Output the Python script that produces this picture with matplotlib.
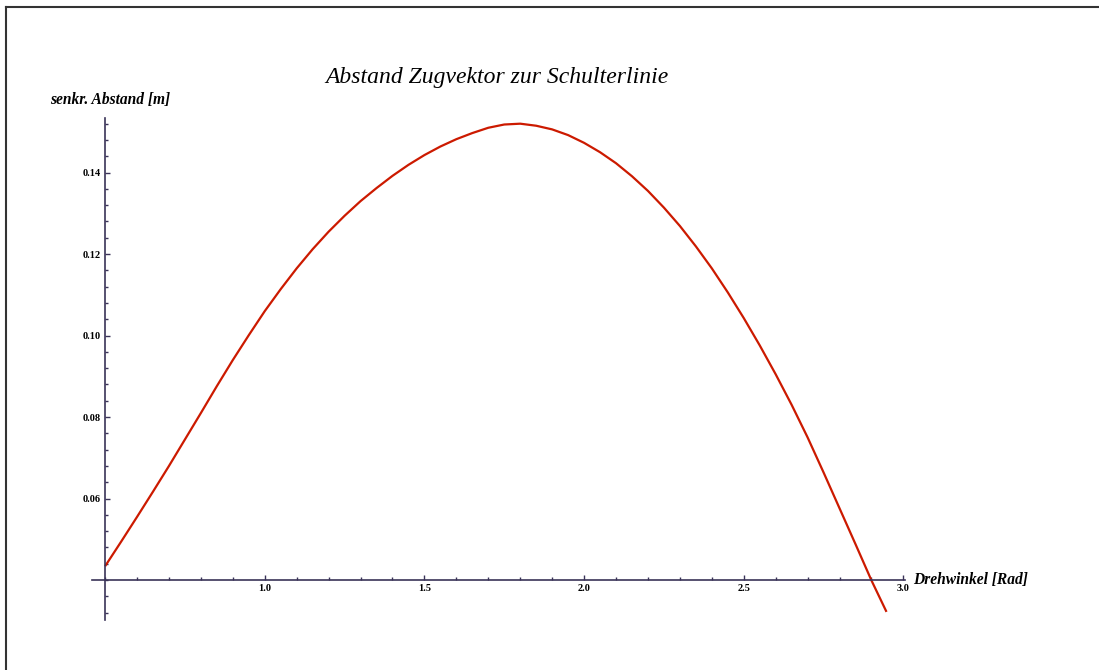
import matplotlib
matplotlib.use("Agg")
import matplotlib.pyplot as plt
from matplotlib.lines import Line2D
from matplotlib.ticker import MultipleLocator, FixedLocator

# Data
angle = [0.50, 0.55, 0.60, 0.65, 0.70, 0.75, 0.80, 0.85, 0.90, 0.95,
         1.00, 1.05, 1.10, 1.15, 1.20, 1.25, 1.30, 1.35, 1.40, 1.45,
         1.50, 1.55, 1.60, 1.65, 1.70, 1.75, 1.80, 1.85, 1.90, 1.95,
         2.00, 2.05, 2.10, 2.15, 2.20, 2.25, 2.30, 2.35, 2.40, 2.45,
         2.50, 2.55, 2.60, 2.65, 2.70, 2.75, 2.80, 2.85, 2.90, 2.947]
distance = [0.0434, 0.0494, 0.0555, 0.0617, 0.0680, 0.0745, 0.0810, 0.0876, 0.0940, 0.1001,
            0.1060, 0.1114, 0.1165, 0.1212, 0.1255, 0.1294, 0.1330, 0.1362, 0.1392, 0.1419,
            0.1443, 0.1464, 0.1482, 0.1497, 0.1510, 0.1518, 0.1520, 0.1515, 0.1506, 0.1492,
            0.1473, 0.1450, 0.1423, 0.1391, 0.1355, 0.1314, 0.1269, 0.1219, 0.1165, 0.1106,
            0.1043, 0.0976, 0.0905, 0.0830, 0.0750, 0.0664, 0.0576, 0.0488, 0.0399, 0.0322]

x_ticks = [1.0, 1.5, 2.0, 2.5, 3.0]
x_ticklabels = ["1.0", "1.5", "2.0", "2.5", "3.0"]
y_ticks = [0.06, 0.08, 0.10, 0.12, 0.14]
y_ticklabels = ["0.06", "0.08", "0.10", "0.12", "0.14"]

title = "Abstand Zugvektor zur Schulterlinie"
ylabel = "senkr. Abstand [m]"
xlabel = "Drehwinkel [Rad]"

fig = plt.figure(figsize=(10.99, 6.70), dpi=100)
ax = fig.add_axes([0.0837, 0.0746, 0.8235 - 0.0837, 0.8239 - 0.0746])

axis_color = "#3a3358"
ax.plot(angle, distance, color="#cc1a00", lw=1.6, solid_capstyle="butt",
        solid_joinstyle="round")

ax.set_xlim(0.459, 3.005)
ax.set_ylim(0.0302, 0.1534)

for s in ["top", "right"]:
    ax.spines[s].set_visible(False)
ax.spines["left"].set_position(("data", 0.5))
ax.spines["bottom"].set_position(("data", 0.04))
for s in ["left", "bottom"]:
    ax.spines[s].set_color(axis_color)
    ax.spines[s].set_linewidth(1.2)

ax.xaxis.set_major_locator(FixedLocator(x_ticks))
ax.set_xticklabels(x_ticklabels)
ax.xaxis.set_minor_locator(MultipleLocator(0.1))
ax.yaxis.set_major_locator(FixedLocator(y_ticks))
ax.set_yticklabels(y_ticklabels)
ax.yaxis.set_minor_locator(MultipleLocator(0.004))

ax.tick_params(axis="both", which="major", direction="in", length=3.5, width=1.0,
               color=axis_color, labelsize=7.5, pad=3)
ax.tick_params(axis="both", which="minor", direction="in", length=2, width=1.0,
               color=axis_color)
for lab in ax.get_xticklabels() + ax.get_yticklabels():
    lab.set_fontfamily("Liberation Serif")
    lab.set_fontweight("bold")

fig.text(0.4525, 1 - 77 / 670, title, ha="center", va="center",
         fontfamily="Liberation Serif", fontstyle="italic", fontsize=17)
fig.text(50 / 1099, 1 - 100 / 670, ylabel, ha="left", va="center",
         fontfamily="Liberation Serif", fontstyle="italic", fontweight="bold", fontsize=11.2)
fig.text(913 / 1099, 1 - 580 / 670, xlabel, ha="left", va="center",
         fontfamily="Liberation Serif", fontstyle="italic", fontweight="bold", fontsize=11.2)

# frame lines at top and left of the picture
fig.add_artist(Line2D([6 / 1099, 1.0], [1 - 7 / 670, 1 - 7 / 670], color="#333333", lw=1.5,
                      transform=fig.transFigure))
fig.add_artist(Line2D([6 / 1099, 6 / 1099], [1 - 7 / 670, 0.0], color="#333333", lw=1.5,
                      transform=fig.transFigure))

fig.savefig("out.png", dpi=100)
